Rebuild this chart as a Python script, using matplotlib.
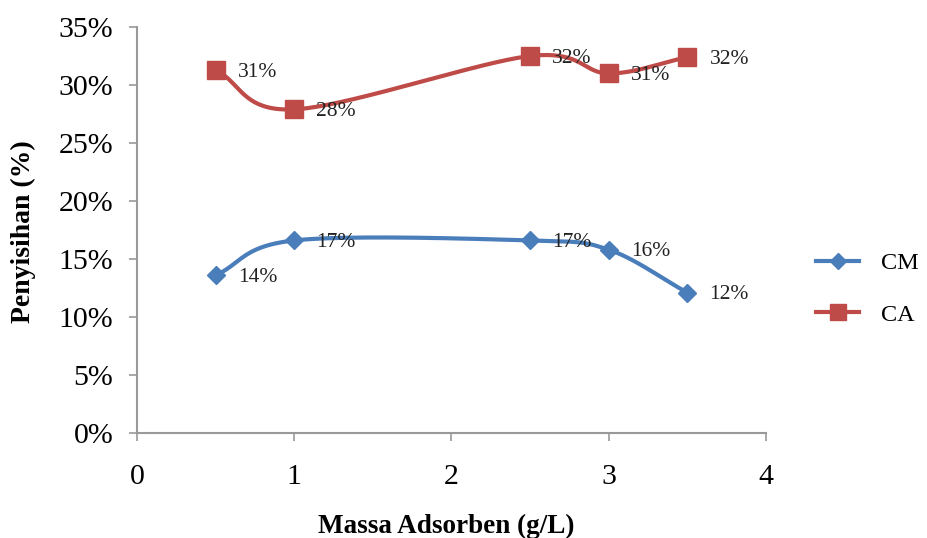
"""Penyisihan vs massa adsorben, CM and CA."""

import matplotlib
matplotlib.use("Agg")
import matplotlib.pyplot as plt
import numpy as np
from matplotlib.ticker import FuncFormatter

massa = [0.5, 1.0, 2.5, 3.0, 3.5]
cm_values = [13.6, 16.6, 16.6, 15.8, 12.1]
ca_values = [31.3, 27.9, 32.5, 31.0, 32.4]
cm_labels = ["14%", "17%", "17%", "16%", "12%"]
ca_labels = ["31%", "28%", "32%", "31%", "32%"]

plt.rcParams["font.family"] = ["Liberation Serif", "DejaVu Serif"]


def smooth(x, y, n=40):
    """Catmull-Rom curve through the points (like Excel's smoothed line)."""
    x = np.asarray(x, float)
    y = np.asarray(y, float)
    px = np.concatenate([[2 * x[0] - x[1]], x, [2 * x[-1] - x[-2]]])
    py = np.concatenate([[2 * y[0] - y[1]], y, [2 * y[-1] - y[-2]]])
    xs, ys = [], []
    t = np.linspace(0, 1, n)
    for i in range(1, len(px) - 2):
        for arr, out in ((px, xs), (py, ys)):
            p0, p1, p2, p3 = arr[i - 1], arr[i], arr[i + 1], arr[i + 2]
            out.extend(
                0.5 * ((2 * p1) + (-p0 + p2) * t
                       + (2 * p0 - 5 * p1 + 4 * p2 - p3) * t ** 2
                       + (-p0 + 3 * p1 - 3 * p2 + p3) * t ** 3)
            )
    return np.array(xs), np.array(ys)


fig = plt.figure(figsize=(9.28, 5.38), dpi=100)
ax = fig.add_axes([0.1476, 0.1952, 0.6778, 0.7546])

blue = "#4a7ebb"
red = "#be4b48"

for vals, labels, color, marker, ms, name in (
    (cm_values, cm_labels, blue, "D", 9, "CM"),
    (ca_values, ca_labels, red, "s", 13, "CA"),
):
    sx, sy = smooth(massa, vals)
    ax.plot(sx, sy, color=color, linewidth=3, zorder=2)
    ax.plot(massa, vals, linestyle="none", marker=marker, markersize=ms,
            color=color, zorder=3)
    ax.plot([], [], color=color, linewidth=3, marker=marker, markersize=ms - 1,
            label=name)
    for xv, yv, lab in zip(massa, vals, labels):
        ax.annotate(lab, (xv, yv), xytext=(16, -1.5), textcoords="offset points",
                    ha="left", va="center", fontsize=15.5, color="#222222")

ax.set_xlim(0, 4)
ax.set_ylim(0, 35)
ax.set_xticks([0, 1, 2, 3, 4])
ax.set_yticks(np.arange(0, 36, 5))
ax.yaxis.set_major_formatter(FuncFormatter(lambda v, p: f"{v:.0f}%"))
ax.tick_params(axis="both", labelsize=21.5, color="#999999", length=6, width=1.2)
ax.tick_params(axis="x", pad=16)
ax.tick_params(axis="y", pad=11)

for side in ("top", "right"):
    ax.spines[side].set_visible(False)
for side in ("left", "bottom"):
    ax.spines[side].set_color("#999999")
    ax.spines[side].set_linewidth(1.5)

ax.set_xlabel("Massa Adsorben (g/L)", fontsize=19.5, fontweight="bold")
ax.set_ylabel("Penyisihan (%)", fontsize=20, fontweight="bold")
ax.xaxis.set_label_coords(0.492, -0.2)
ax.yaxis.set_label_coords(-0.16, 0.497)

fig.legend(loc="center left", bbox_to_anchor=(0.856, 0.463), frameon=False,
           fontsize=17.5, handlelength=1.75, handletextpad=0.9,
           labelspacing=1.2)

fig.savefig("out.png", dpi=100)
